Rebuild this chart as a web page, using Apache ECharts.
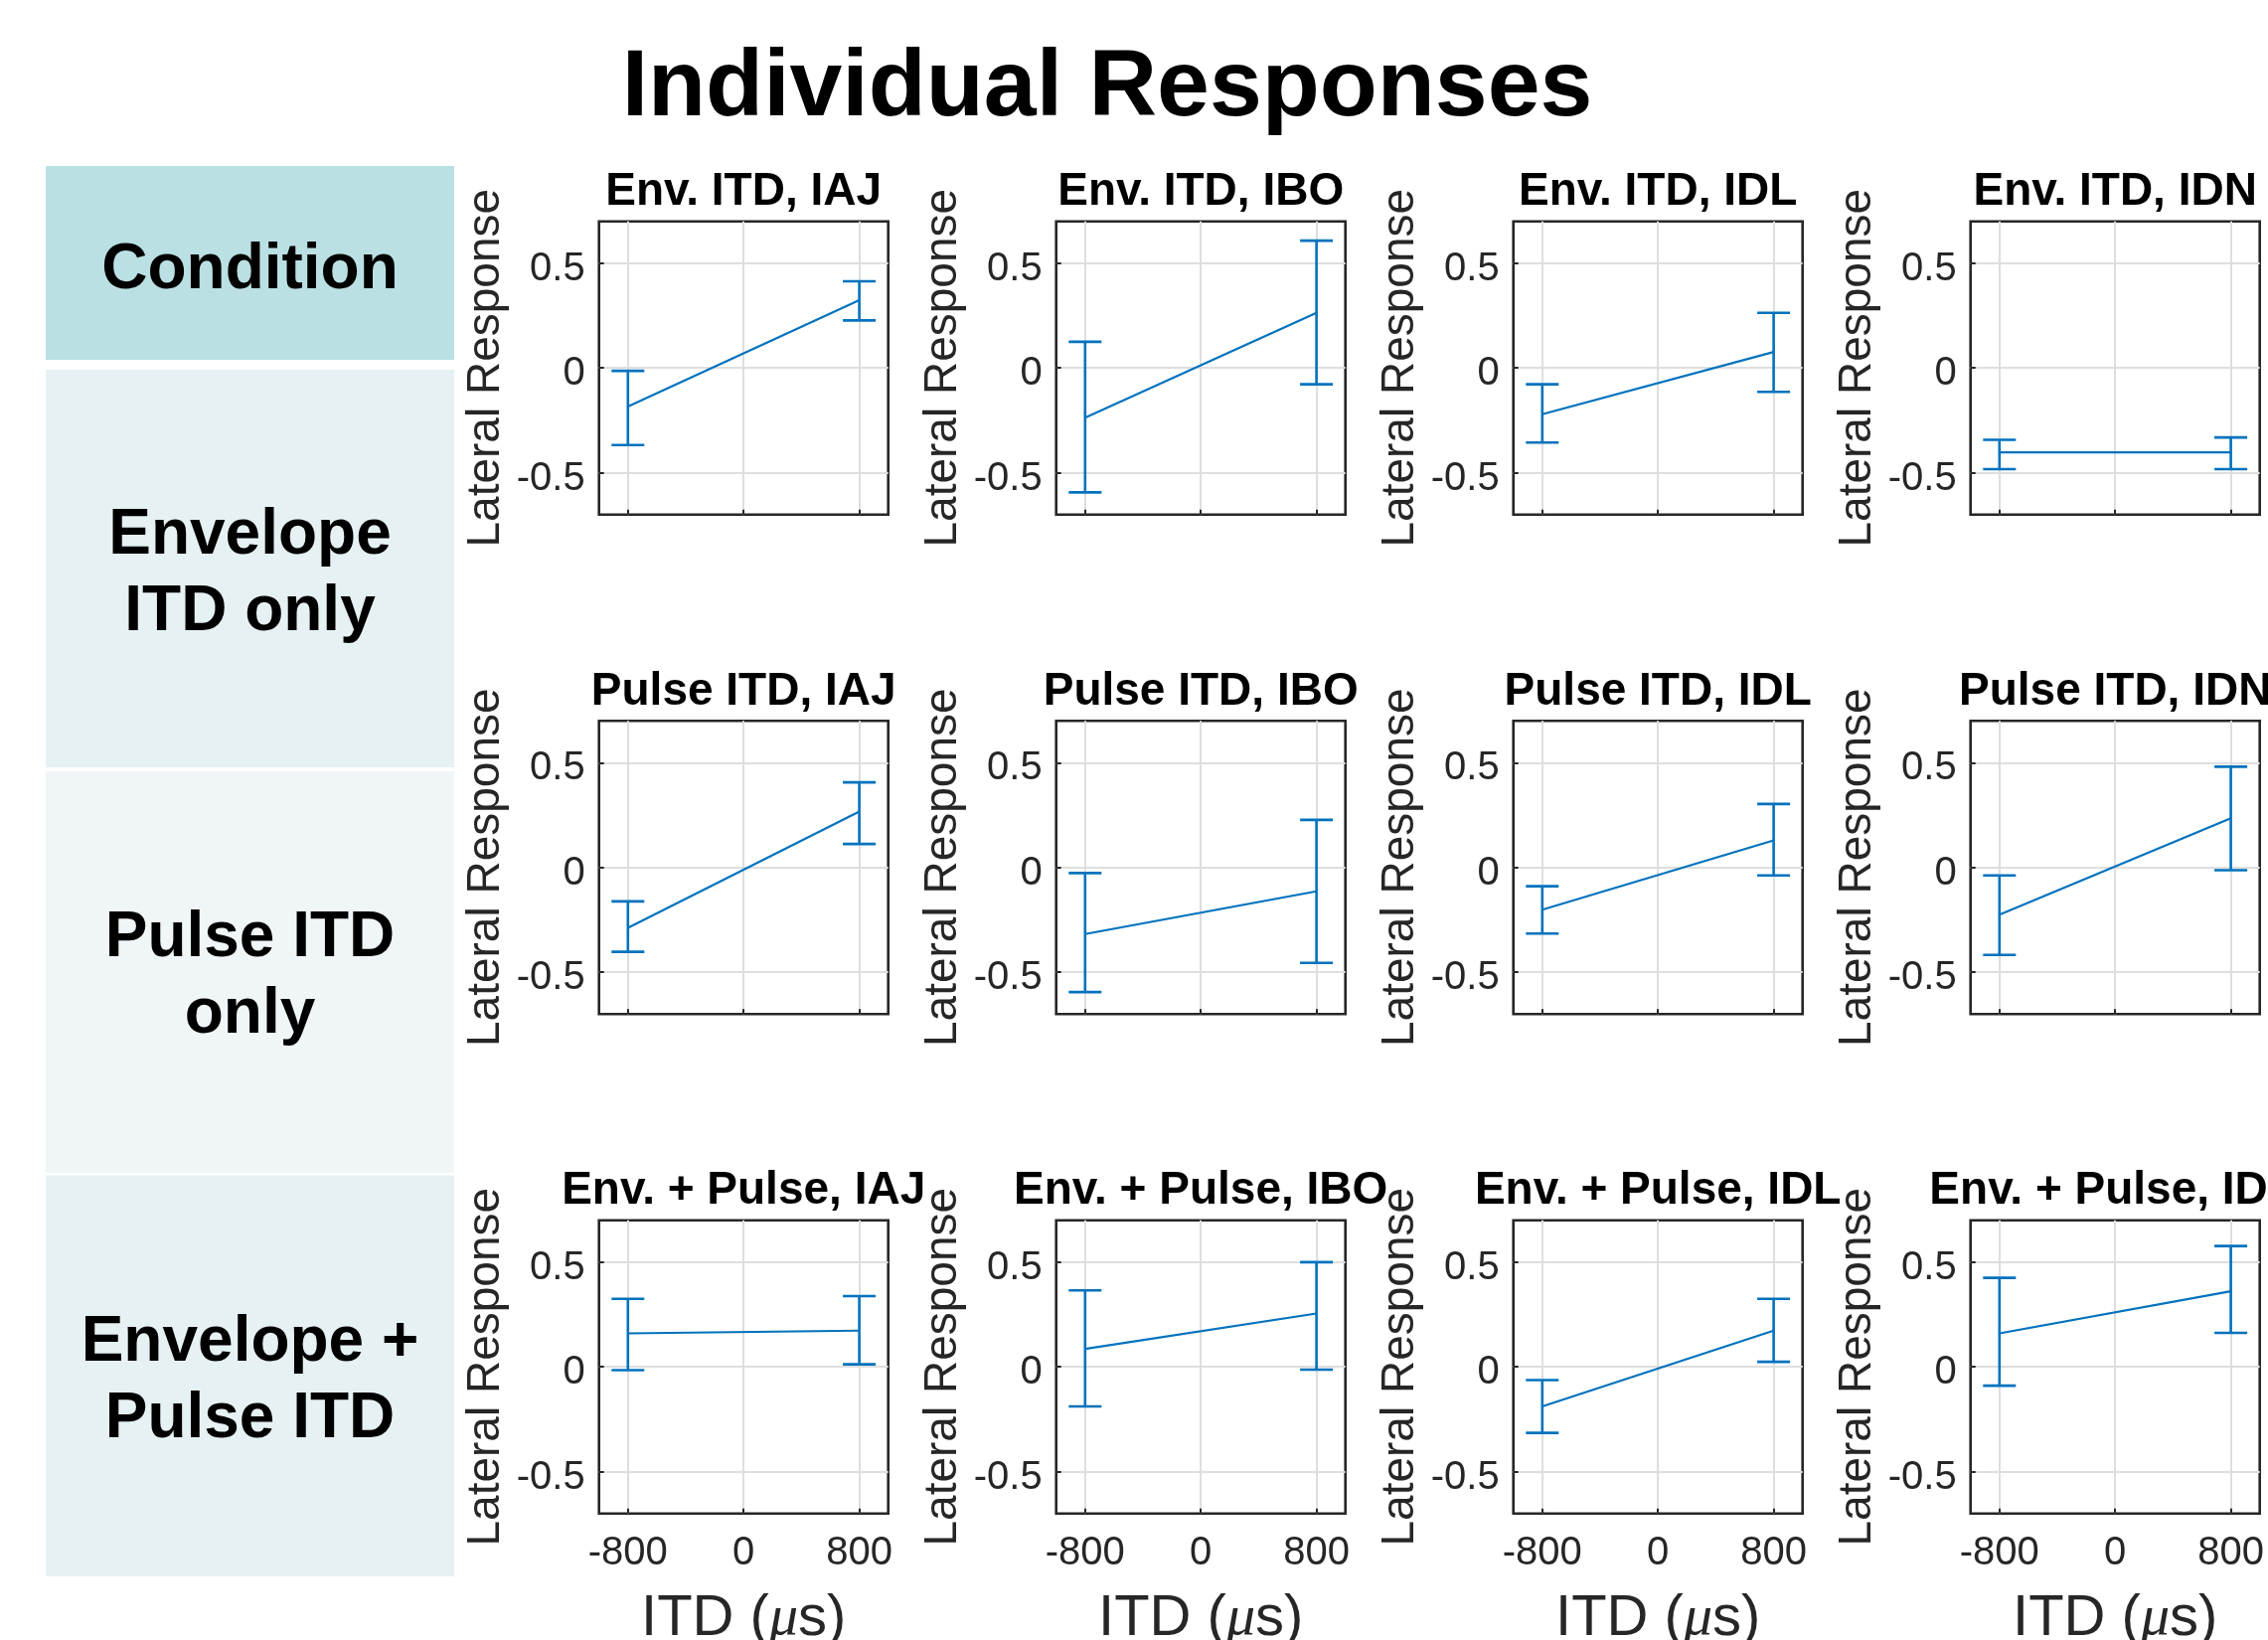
<!DOCTYPE html>
<html><head><meta charset="utf-8">
<script src="https://cdn.jsdelivr.net/npm/echarts@6/dist/echarts.min.js"></script>
<style>html,body{margin:0;padding:0;background:#fff}#c{width:2282px;height:1650px}</style>
</head><body><div id="c"></div>
<script>
// ---------- data ----------
const itd = [-800, 800];
const subjects = ['IAJ', 'IBO', 'IDL', 'IDN'];
const conditionTitles = ['Env. ITD', 'Pulse ITD', 'Env. + Pulse'];
const rowLabels = ['Condition', 'Envelope\nITD only', 'Pulse ITD\nonly', 'Envelope +\nPulse ITD'];
const mainTitle = 'Individual Responses';
const yTicks = [-0.5, 0, 0.5];
const xTicks = [-800, 0, 800];
const yLabel = 'Lateral Response';

// per subject: [value at -800, value at 800]
const envMean  = [[-0.184, 0.324], [-0.237, 0.263], [-0.221, 0.076], [-0.403, -0.403]];
const envLow   = [[-0.368, 0.227], [-0.594, -0.078], [-0.356, -0.114], [-0.483, -0.483]];
const envHigh  = [[-0.014, 0.414], [0.125, 0.608], [-0.078, 0.263], [-0.343, -0.332]];

const pulseMean = [[-0.289, 0.267], [-0.318, -0.114], [-0.202, 0.129], [-0.226, 0.235]];
const pulseLow  = [[-0.403, 0.112], [-0.595, -0.456], [-0.316, -0.038], [-0.418, -0.013]];
const pulseHigh = [[-0.162, 0.406], [-0.027, 0.227], [-0.090, 0.303], [-0.038, 0.481]];

const bothMean = [[0.160, 0.173], [0.086, 0.255], [-0.189, 0.173], [0.160, 0.361]];
const bothLow  = [[-0.016, 0.012], [-0.189, -0.013], [-0.315, 0.024], [-0.090, 0.162]];
const bothHigh = [[0.325, 0.338], [0.365, 0.500], [-0.063, 0.325], [0.425, 0.577]];

// ---------- layout / style ----------
const FONT = '"Liberation Sans", Arial, Helvetica, sans-serif';
const BLUE = '#0072BD';
const INK = '#262626';
const colLeft = [602.7, 1062.7, 1522.7, 1982.7];
const rowTop = [222.7, 725.2, 1227.7];
const plotW = 291, plotH = 295;
const capHalf = 16.5;

const means = [envMean, pulseMean, bothMean];
const lows = [envLow, pulseLow, bothLow];
const highs = [envHigh, pulseHigh, bothHigh];

const grids = [], xAxes = [], yAxes = [], series = [], titles = [];

titles.push({
  text: mainTitle, left: 1114, top: 90, padding: 0,
  textAlign: 'center', textVerticalAlign: 'middle',
  textStyle: { fontFamily: FONT, fontSize: 95, fontWeight: 'bold', color: '#000' }
});

function errRender(params, api) {
  const x = api.value(0), lo = api.value(1), hi = api.value(2);
  const a = api.coord([x, lo]), b = api.coord([x, hi]);
  const st = { stroke: BLUE, lineWidth: 2.6, fill: null };
  return {
    type: 'group',
    children: [
      { type: 'line', shape: { x1: a[0], y1: a[1], x2: b[0], y2: b[1] }, style: st },
      { type: 'line', shape: { x1: a[0] - capHalf, y1: a[1], x2: a[0] + capHalf, y2: a[1] }, style: st },
      { type: 'line', shape: { x1: b[0] - capHalf, y1: b[1], x2: b[0] + capHalf, y2: b[1] }, style: st }
    ]
  };
}

let k = 0;
for (let r = 0; r < 3; r++) {
  for (let c = 0; c < 4; c++) {
    const bottom = r === 2;
    grids.push({
      left: colLeft[c], top: rowTop[r], width: plotW, height: plotH,
      show: true, borderColor: INK, borderWidth: 2.6, backgroundColor: '#fff',
      containLabel: false, outerBoundsMode: 'none'
    });
    xAxes.push({
      gridIndex: k, type: 'value', min: -1000, max: 1000, position: 'bottom',
      axisLine: { show: false, onZero: false },
      axisTick: { show: true, inside: true, length: 5, customValues: xTicks, lineStyle: { color: INK, width: 2 } },
      splitLine: { show: true, lineStyle: { color: '#DEDEDE', width: 2 } },
      axisLabel: { show: bottom, customValues: xTicks, fontFamily: FONT, fontSize: 40, color: INK, margin: 20 },
      name: bottom ? 'ITD ({i|μ}s)' : '',
      nameLocation: 'middle', nameGap: 77, nameMoveOverlap: false,
      nameTextStyle: {
        fontFamily: FONT, fontSize: 58, color: INK,
        rich: { i: { fontFamily: '"Liberation Serif", "DejaVu Serif", serif', fontStyle: 'italic', fontSize: 58, color: INK } }
      }
    });
    yAxes.push({
      gridIndex: k, type: 'value', min: -0.7, max: 0.7, position: 'left',
      axisLine: { show: false, onZero: false },
      axisTick: { show: true, inside: true, length: 5, customValues: yTicks, lineStyle: { color: INK, width: 2 } },
      splitLine: { show: true, lineStyle: { color: '#DEDEDE', width: 2 } },
      axisLabel: { show: true, customValues: yTicks, fontFamily: FONT, fontSize: 40, color: INK, margin: 14,
        verticalAlign: 'top', lineHeight: 12, formatter: v => String(v) },
      name: yLabel, nameLocation: 'middle', nameGap: 90, nameMoveOverlap: false,
      nameTextStyle: { fontFamily: FONT, fontSize: 46, color: INK }
    });
    titles.push({
      text: conditionTitles[r] + ', ' + subjects[c],
      left: colLeft[c] + plotW / 2, top: rowTop[r] - 29, padding: 0,
      textAlign: 'center', textVerticalAlign: 'middle',
      textStyle: { fontFamily: FONT, fontSize: 46, fontWeight: 'bold', color: '#000' }
    });
    const m = means[r][c], lo = lows[r][c], hi = highs[r][c];
    series.push({
      type: 'line', xAxisIndex: k, yAxisIndex: k,
      data: itd.map((x, i) => [x, m[i]]),
      showSymbol: false, symbol: 'none',
      lineStyle: { color: BLUE, width: 2.2 }, z: 3
    });
    series.push({
      type: 'custom', xAxisIndex: k, yAxisIndex: k,
      data: itd.map((x, i) => [x, lo[i], hi[i]]),
      renderItem: errRender, z: 4,
      encode: { x: 0, y: [1, 2] }
    });
    k++;
  }
}

// left condition table
const tableX = 46, tableW = 411;
const tableRows = [
  { y: 167, h: 195, fill: '#BBE0E3', cy: 272 },
  { y: 372, h: 400, fill: '#E6F1F3', cy: 577.5 },
  { y: 776, h: 404, fill: '#F0F6F8', cy: 983 },
  { y: 1182.5, h: 403.5, fill: '#E6F1F3', cy: 1390 }
];
const graphics = [];
tableRows.forEach((t, i) => {
  graphics.push({ type: 'rect', left: tableX, top: t.y, shape: { width: tableW, height: t.h }, style: { fill: t.fill }, z: -10, silent: true });
  graphics.push({
    type: 'text', x: tableX + tableW / 2, y: t.cy, z: 10, silent: true,
    style: { text: rowLabels[i], fontFamily: FONT, fontSize: 64, fontWeight: 'bold', fill: '#000',
      align: 'center', verticalAlign: 'middle', lineHeight: 77 }
  });
});

const chart = echarts.init(document.getElementById('c'), null, { renderer: 'canvas', width: 2282, height: 1650 });
chart.setOption({
  animation: false,
  backgroundColor: '#fff',
  textStyle: { fontFamily: FONT },
  title: titles,
  grid: grids,
  xAxis: xAxes,
  yAxis: yAxes,
  series: series,
  graphic: graphics
});
</script>
</body></html>
